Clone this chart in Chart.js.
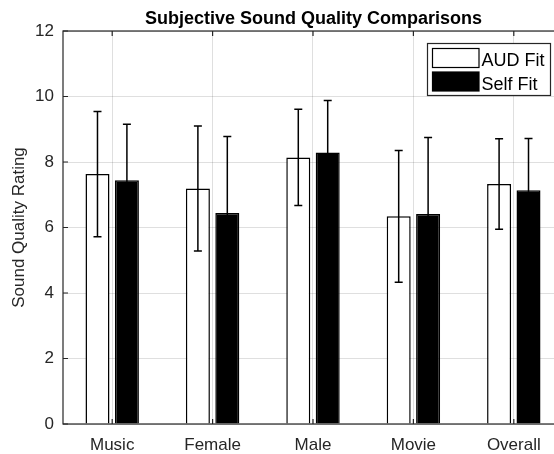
<!DOCTYPE html>
<html>
<head>
<meta charset="utf-8">
<script src="https://cdn.jsdelivr.net/npm/chart.js@4/dist/chart.umd.min.js"></script>
<style>
  html, body { margin: 0; padding: 0; background: #fff; overflow: hidden; }
  #wrap { width: 554px; height: 454px; overflow: hidden; }
</style>
</head>
<body>
<div id="wrap"><canvas id="c" width="570" height="454"></canvas></div>
<script>
const categories = ['Music', 'Female', 'Male', 'Movie', 'Overall'];
const seriesNames = ['AUD Fit', 'Self Fit'];
const audFit = [7.63, 7.19, 8.14, 6.34, 7.33];
const audErr = [1.91, 1.91, 1.47, 2.01, 1.38];
const selfFit = [7.44, 6.44, 8.29, 6.41, 7.14];
const selfErr = [1.71, 2.34, 1.59, 2.34, 1.58];
const yTicks = [0, 2, 4, 6, 8, 10, 12];
const titleText = 'Subjective Sound Quality Comparisons';
const yTitle = 'Sound Quality Rating';

const FONT = '"Liberation Sans", Arial, Helvetica, sans-serif';
const AX = '#262626';

const means = [audFit, selfFit];
const errs = [audErr, selfErr];

const errorBars = {
  id: 'errorBars',
  afterDatasetsDraw(chart) {
    const ctx = chart.ctx, y = chart.scales.y;
    ctx.save();
    ctx.strokeStyle = '#000';
    ctx.lineWidth = 1.5;
    means.forEach((vals, di) => {
      const meta = chart.getDatasetMeta(di);
      meta.data.forEach((bar, i) => {
        const x = bar.x;
        const t = y.getPixelForValue(vals[i] + errs[di][i]);
        const b = y.getPixelForValue(vals[i] - errs[di][i]);
        ctx.beginPath();
        ctx.moveTo(x, t); ctx.lineTo(x, b);
        ctx.moveTo(x - 4, t); ctx.lineTo(x + 4, t);
        ctx.moveTo(x - 4, b); ctx.lineTo(x + 4, b);
        ctx.stroke();
      });
    });
    ctx.restore();
  }
};

const axesBox = {
  id: 'axesBox',
  afterDatasetsDraw(chart) {
    const ctx = chart.ctx, a = chart.chartArea;
    const xs = chart.scales.x, ys = chart.scales.y;
    ctx.save();
    ctx.strokeStyle = AX;
    ctx.lineWidth = 1.2;
    ctx.strokeRect(a.left, a.top, a.right - a.left, a.bottom - a.top);
    ctx.beginPath();
    xs.ticks.forEach(t => {
      const px = xs.getPixelForValue(t.value);
      ctx.moveTo(px, a.top); ctx.lineTo(px, a.top + 5);
      ctx.moveTo(px, a.bottom); ctx.lineTo(px, a.bottom - 5);
    });
    ys.ticks.forEach(t => {
      const py = ys.getPixelForValue(t.value);
      ctx.moveTo(a.left, py); ctx.lineTo(a.left + 5, py);
      ctx.moveTo(a.right, py); ctx.lineTo(a.right - 5, py);
    });
    ctx.stroke();
    ctx.restore();
  },
  afterDraw(chart) {
    const ctx = chart.ctx, a = chart.chartArea;
    ctx.save();
    // title
    ctx.fillStyle = '#000';
    ctx.font = 'bold 18px ' + FONT;
    ctx.textAlign = 'center';
    ctx.textBaseline = 'alphabetic';
    ctx.fillText(titleText, (a.left + a.right) / 2, 24);
    // legend
    const lx = 427.5, ly = 43.5, lw = 123, lh = 52;
    ctx.fillStyle = '#fff';
    ctx.fillRect(lx, ly, lw, lh);
    ctx.strokeStyle = AX;
    ctx.lineWidth = 1.2;
    ctx.strokeRect(lx, ly, lw, lh);
    chart.data.datasets.forEach((ds, i) => {
      const sy = i === 0 ? 48.5 : 72;
      ctx.fillStyle = ds.backgroundColor;
      ctx.fillRect(432.5, sy, 46.5, 19);
      ctx.strokeStyle = '#000';
      ctx.lineWidth = 1.2;
      ctx.strokeRect(432.5, sy, 46.5, 19);
      ctx.fillStyle = '#000';
      ctx.font = '18px ' + FONT;
      ctx.textAlign = 'left';
      ctx.textBaseline = 'alphabetic';
      ctx.fillText(ds.label, 481.5, i === 0 ? 65.7 : 90);
    });
    ctx.restore();
  }
};

new Chart(document.getElementById('c'), {
  type: 'bar',
  data: {
    datasets: [
      {
        label: seriesNames[0],
        data: categories.map((c, i) => ({ x: i + 1, y: audFit[i] })),
        backgroundColor: '#ffffff',
        borderColor: '#000000',
        borderWidth: 1.5,
        borderSkipped: 'start'
      },
      {
        label: seriesNames[1],
        data: categories.map((c, i) => ({ x: i + 1, y: selfFit[i] })),
        backgroundColor: '#000000',
        borderColor: '#000000',
        borderWidth: 1.5,
        borderSkipped: 'start'
      }
    ]
  },
  options: {
    responsive: false,
    animation: false,
    devicePixelRatio: 1,
    categoryPercentage: 0.586,
    barPercentage: 0.816,
    layout: { padding: { top: 31, right: 6, left: 0, bottom: 0 } },
    plugins: {
      legend: { display: false },
      title: { display: false },
      tooltip: { enabled: false }
    },
    scales: {
      x: {
        type: 'linear',
        min: 0.51,
        max: 5.5,
        offset: false,
        afterBuildTicks: s => { s.ticks = categories.map((c, i) => ({ value: i + 1 })); },
        afterFit: s => { s.height = 30; },
        ticks: {
          callback: v => categories[v - 1],
          color: AX,
          font: { family: FONT, size: 17 },
          padding: 11,
          maxRotation: 0,
          autoSkip: false
        },
        grid: { offset: false, color: 'rgba(38,38,38,0.15)', lineWidth: 1, drawTicks: false },
        border: { display: false }
      },
      y: {
        min: 0,
        max: 12,
        afterBuildTicks: s => { s.ticks = yTicks.map(v => ({ value: v })); },
        afterFit: s => { s.width = 63; },
        ticks: {
          color: AX,
          font: { family: FONT, size: 17 },
          padding: 9
        },
        grid: { color: 'rgba(38,38,38,0.15)', lineWidth: 1, drawTicks: false },
        border: { display: false },
        title: {
          display: true,
          text: yTitle,
          color: AX,
          font: { family: FONT, size: 17 },
          padding: { top: 9, bottom: 0 }
        }
      }
    }
  },
  plugins: [errorBars, axesBox]
});
</script>
</body>
</html>
